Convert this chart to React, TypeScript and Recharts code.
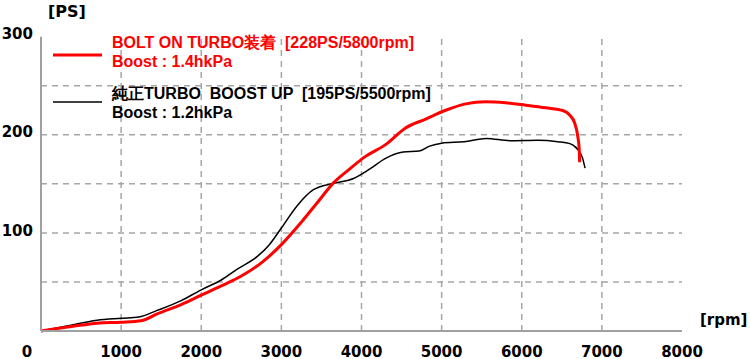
import { Legend, Line, LineChart, ReferenceLine, XAxis, YAxis } from "recharts";

// rpm / PS
const boltOnRpm = [0, 200, 400, 700, 1000, 1250, 1450, 1750, 2000, 2250, 2500, 2750, 3000, 3250, 3450, 3650, 3850, 4050, 4300, 4550, 4800, 5050, 5300, 5550, 5800, 6050, 6300, 6520, 6600, 6660, 6700, 6718, 6722];
const boltOnPs = [0, 2.5, 4.8, 8, 9, 10.5, 17.5, 27, 36.5, 46, 56, 69.5, 88, 111, 131, 151, 165, 178, 190, 207, 216, 225, 231.5, 233.7, 232.6, 230.2, 227.5, 224.5, 220, 212, 198, 184, 172];

const stockRpm = [0, 200, 400, 700, 1000, 1220, 1450, 1750, 2000, 2250, 2450, 2700, 2850, 3000, 3200, 3400, 3650, 3900, 4100, 4300, 4520, 4720, 4850, 5000, 5280, 5560, 5850, 6200, 6450, 6600, 6700, 6760, 6790];
const stockPs = [0, 3, 6.5, 11, 13, 14.3, 21, 31, 42, 52, 63, 76, 88, 105, 128, 144, 150.5, 155.5, 165, 176, 182.5, 183.5, 188.5, 191.5, 193, 196.3, 194, 194.5, 193, 191, 185, 176, 166];

const xTicks = [0, 1000, 2000, 3000, 4000, 5000, 6000, 7000, 8000];
const yTicks = [100, 200, 300];
const gridX = [1000, 2000, 3000, 4000, 5000, 6000, 7000];
const gridY = [50, 100, 150, 200, 250];

const seriesNames = ["BOLT ON TURBO装着  [228PS/5800rpm]", "純正TURBO  BOOST UP  [195PS/5500rpm]"];
const seriesBoost = ["Boost : 1.4hkPa", "Boost : 1.2hkPa"];

const boltOn = boltOnRpm.map((rpm, i) => ({ rpm, ps: boltOnPs[i] }));
const stock = stockRpm.map((rpm, i) => ({ rpm, ps: stockPs[i] }));

const AXIS_FONT = "'DejaVu Sans', sans-serif";
const LEGEND_FONT = "'Liberation Sans', Arial, sans-serif";

const XTick = ({ x, payload }: any) => (
  <text x={x + (payload.value === 0 ? -14 : 0)} y={356.5} textAnchor="middle" fontFamily={AXIS_FONT} fontWeight="bold" fontSize={15} fill="#000">
    {payload.value}
  </text>
);

const YTick = ({ y, payload }: any) => (
  <text x={33} y={y + 2.6} textAnchor="end" fontFamily={AXIS_FONT} fontWeight="bold" fontSize={15} fill="#000">
    {payload.value}
  </text>
);

const lineY = [55, 102];
const textY = [47.5, 98.5];

const LegendBox = ({ payload }: any) => (
  <svg width={450} height={130} style={{ display: "block" }}>
    {(payload || []).map((entry: any, i: number) => (
      <g key={entry.value}>
        <line x1={53} x2={102} y1={lineY[i]} y2={lineY[i]} stroke={entry.color} strokeWidth={i === 0 ? 3 : 1.5} />
        <text x={112} y={textY[i]} fill={entry.color} fontFamily={LEGEND_FONT} fontWeight="bold" fontSize={16} style={{ whiteSpace: "pre" }}>
          {seriesNames[i]}
        </text>
        <text x={112} y={textY[i] + 19.5} fill={entry.color} fontFamily={LEGEND_FONT} fontWeight="bold" fontSize={16}>
          {seriesBoost[i]}
        </text>
      </g>
    ))}
  </svg>
);

export default function App() {
  return (
    <div style={{ position: "absolute", left: 0, top: 0, width: 750, height: 359, background: "#fff" }}>
      <LineChart width={750} height={359} margin={{ top: 36.7, right: 68, bottom: 0, left: 0 }}>
        {gridY.map((v) => (
          <ReferenceLine key={`h${v}`} y={v} stroke="#a6a6a6" strokeWidth={1.5} strokeDasharray="6 5" />
        ))}
        {gridX.map((v) => (
          <ReferenceLine key={`v${v}`} x={v} stroke="#a6a6a6" strokeWidth={1.5} strokeDasharray="6 5" />
        ))}
        <XAxis
          type="number"
          dataKey="rpm"
          domain={[0, 8000]}
          ticks={xTicks}
          height={28}
          tickLine={false}
          axisLine={{ stroke: "#a0a0a0", strokeWidth: 2 }}
          tick={<XTick />}
          interval={0}
        />
        <YAxis
          type="number"
          dataKey="ps"
          domain={[0, 300]}
          ticks={yTicks}
          width={41}
          tickLine={false}
          axisLine={{ stroke: "#a0a0a0", strokeWidth: 2 }}
          tick={<YTick />}
          interval={0}
        />
        <Legend
          layout="horizontal"
          verticalAlign="middle"
          align="center"
          wrapperStyle={{ left: 0, top: 0, width: 450, height: 130 }}
          content={<LegendBox />}
        />
        <Line data={stock} dataKey="ps" name="stock" type="monotone" stroke="#000" strokeWidth={1.5} dot={false} isAnimationActive={false} />
        <Line data={boltOn} dataKey="ps" name="boltOn" type="monotone" stroke="#ff0000" strokeWidth={3} dot={false} isAnimationActive={false} />
      </LineChart>
      <svg width={750} height={359} style={{ position: "absolute", left: 0, top: 0, pointerEvents: "none" }}>
        <text x={48} y={16.5} fontFamily={AXIS_FONT} fontWeight="bold" fontSize={16} fill="#000">[PS]</text>
        <text x={700} y={325} fontFamily={AXIS_FONT} fontWeight="bold" fontSize={15} fill="#000">[rpm]</text>
      </svg>
    </div>
  );
}
